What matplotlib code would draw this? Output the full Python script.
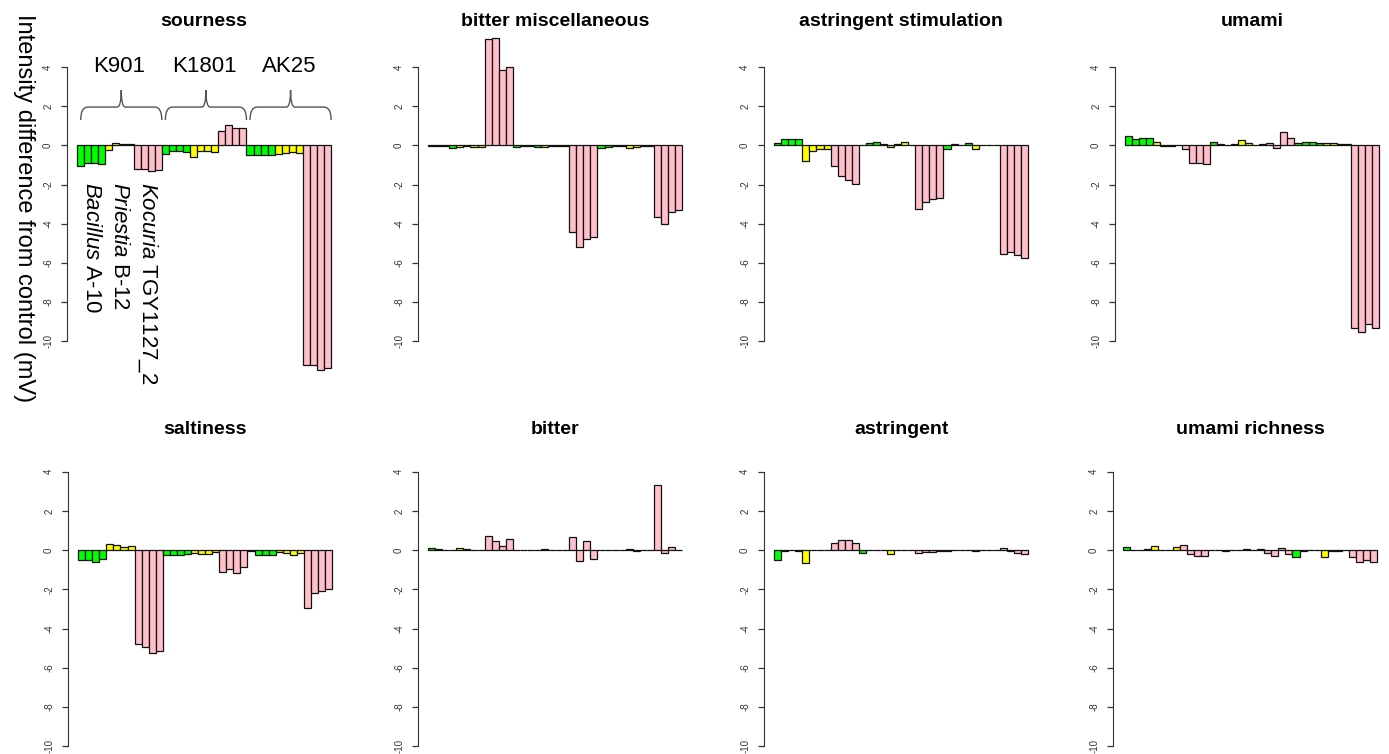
import numpy as np
import matplotlib
matplotlib.use("Agg")
import matplotlib.pyplot as plt
from matplotlib.path import Path
from matplotlib.patches import PathPatch

plt.rcParams['font.family'] = ['Liberation Sans', 'DejaVu Sans']
plt.rcParams['mathtext.fontset'] = 'custom'
plt.rcParams['mathtext.it'] = 'Liberation Sans:italic'
plt.rcParams['mathtext.rm'] = 'Liberation Sans'

# --- dados: 3 cepas x 3 bacterias x 4 repeticoes ---
strains = ['K901', 'K1801', 'AK25']
bacteria = [r'$\it{Bacillus}$ A-10', r'$\it{Priestia}$ B-12', r'$\it{Kocuria}$ TGY1127_2']
bact_colors = ['#00FF00', '#FFFF00', '#FFC0CB']
n_rep = 4

titles = ['sourness', 'bitter miscellaneous', 'astringent stimulation', 'umami',
          'saltiness', 'bitter', 'astringent', 'umami richness']

sourness = [-1.04, -0.88, -0.88, -0.93, -0.24, 0.14, 0.05, 0.05, -1.22, -1.22, -1.30, -1.25,
            -0.44, -0.29, -0.29, -0.33, -0.58, -0.29, -0.29, -0.33, 0.75, 1.02, 0.88, 0.88,
            -0.50, -0.50, -0.50, -0.50, -0.45, -0.40, -0.35, -0.40, -11.2, -11.2, -11.45, -11.35]
bitter_misc = [-0.03, -0.03, -0.06, -0.15, -0.10, -0.03, -0.08, -0.08, 5.41, 5.46, 3.84, 4.01,
               -0.10, -0.03, -0.03, -0.08, -0.08, -0.03, -0.03, -0.03, -4.44, -5.17, -4.80, -4.69,
               -0.15, -0.10, -0.03, -0.03, -0.15, -0.10, -0.03, -0.03, -3.67, -4.01, -3.42, -3.32]
astr_stim = [0.14, 0.34, 0.34, 0.34, -0.80, -0.27, -0.17, -0.19, -1.04, -1.56, -1.77, -1.96,
             0.03, 0.10, 0.17, 0.05, -0.10, 0.07, 0.17, 0.0, -3.27, -2.91, -2.72, -2.69,
             -0.20, 0.07, 0.03, 0.12, -0.20, 0.0, 0.03, 0.03, -5.56, -5.46, -5.60, -5.73]
umami = [0.48, 0.33, 0.37, 0.37, 0.18, -0.03, -0.03, 0.0, -0.19, -0.88, -0.88, -0.95,
         0.18, 0.08, 0.03, 0.08, 0.28, 0.10, 0.0, 0.07, 0.13, -0.15, 0.68, 0.38,
         0.12, 0.18, 0.18, 0.12, 0.12, 0.12, 0.08, 0.08, -9.32, -9.50, -9.10, -9.30]
saltiness = [-0.53, -0.53, -0.60, -0.46, 0.32, 0.27, 0.15, 0.20, -4.78, -4.92, -5.25, -5.15,
             -0.24, -0.24, -0.24, -0.19, -0.15, -0.20, -0.20, -0.12, -1.12, -0.97, -1.17, -0.88,
             -0.03, -0.27, -0.27, -0.27, -0.12, -0.15, -0.25, -0.15, -2.97, -2.19, -2.10, -1.98]
bitter = [0.10, 0.05, 0.0, 0.0, 0.10, 0.05, 0.0, 0.0, 0.73, 0.44, 0.20, 0.59,
          0.0, 0.0, 0.0, 0.03, 0.05, 0.0, 0.0, 0.0, 0.68, -0.56, 0.44, -0.44,
          0.03, 0.0, 0.0, 0.0, 0.05, -0.05, 0.0, 0.0, 3.30, -0.15, 0.15, 0.0]
astringent = [-0.53, -0.05, 0.0, -0.03, -0.65, 0.0, 0.0, 0.0, 0.34, 0.54, 0.54, 0.34,
              -0.15, 0.0, 0.0, 0.0, -0.18, 0.03, 0.03, 0.0, -0.15, -0.08, -0.08, -0.05,
              -0.03, 0.0, 0.0, 0.0, -0.05, 0.0, 0.0, 0.0, 0.10, -0.05, -0.15, -0.22]
umami_rich = [0.15, 0.03, 0.03, 0.08, 0.20, 0.03, 0.03, 0.15, 0.28, -0.18, -0.28, -0.32,
              0.0, 0.03, -0.03, 0.0, 0.03, 0.08, 0.0, 0.08, -0.15, -0.28, 0.10, -0.18,
              -0.36, -0.05, 0.03, 0.0, -0.35, -0.03, -0.03, 0.0, -0.35, -0.62, -0.48, -0.62]

panels = [sourness, bitter_misc, astr_stim, umami, saltiness, bitter, astringent, umami_rich]

yticks = [-10, -8, -6, -4, -2, 0, 2, 4]

# --- layout em pixels (imagem 1389 x 754) ---
W, H = 1389, 754
px_x = 7.055            # px por barra
px_y = 19.6             # px por unidade
n_bars = len(strains) * len(bacteria) * n_rep
xlo, xhi = -0.04 * n_bars, n_bars * 1.04
ylo, yhi = -10.56, 4.56
spine_x = [[67, 418, 764, 1115], [68, 418, 764, 1113]]
zero_y = [145.3, 550.1]
title_y = [22, 430]

bar_colors = [c for _ in strains for c in bact_colors for _ in range(n_rep)]

fig = plt.figure(figsize=(W / 100, H / 100), dpi=100)


def brace(ax, x0, x1, yb, yh, yp, r_end=1.0, r_mid=0.6):
    xm = (x0 + x1) / 2
    verts = [(x0, yb), (x0, yh), (x0 + r_end, yh),
             (xm - r_mid, yh), (xm, yh), (xm, yp),
             (xm, yh), (xm + r_mid, yh),
             (x1 - r_end, yh), (x1, yh), (x1, yb)]
    codes = [Path.MOVETO, Path.CURVE3, Path.CURVE3,
             Path.LINETO, Path.CURVE3, Path.CURVE3,
             Path.CURVE3, Path.CURVE3,
             Path.LINETO, Path.CURVE3, Path.CURVE3]
    ax.add_patch(PathPatch(Path(verts, codes), facecolor='none', edgecolor='#555555',
                           lw=1.0, clip_on=False))


for k, vals in enumerate(panels):
    row, col = divmod(k, 4)
    left = spine_x[row][col]
    width = (xhi - xlo) * px_x
    top = zero_y[row] - yhi * px_y
    height = (yhi - ylo) * px_y
    ax = fig.add_axes([left / W, 1 - (top + height) / H, width / W, height / H])
    ax.patch.set_alpha(0)

    x = np.arange(n_bars) + 0.5
    ax.bar(x, vals, width=1.0, color=bar_colors, edgecolor='#111111', linewidth=0.9,
           clip_on=False)
    ax.set_xlim(xlo, xhi)
    ax.set_ylim(ylo, yhi)

    for s in ['top', 'right', 'bottom']:
        ax.spines[s].set_visible(False)
    ax.spines['left'].set_bounds(-10, 4)
    ax.spines['left'].set_color('#333333')
    ax.set_xticks([])
    ax.set_yticks(yticks)
    ax.set_yticklabels([str(t) for t in yticks], rotation=90, va='center', fontsize=7,
                       color='#333333')
    ax.tick_params(axis='y', length=4, width=0.9, color='#333333', pad=6)

    fig.text((left + width / 2) / W, 1 - title_y[row] / H, titles[k], ha='center',
             va='center', fontsize=14, fontweight='bold')

    if k == 0:
        for g, name in enumerate(strains):
            x0 = g * 12
            ax.text(x0 + 6, 4.0, name, ha='center', va='center', fontsize=16, clip_on=False)
            brace(ax, x0 + 0.5, x0 + 12, 1.29, 1.95, 2.82)
        for b, name in enumerate(bacteria):
            ax.text(b * 4 + 2, -1.85, name, rotation=-90, ha='center', va='top',
                    fontsize=16, clip_on=False)

fig.text(24 / W, 1 - 208 / H, 'Intensity difference from control (mV)', rotation=-90,
         ha='center', va='center', fontsize=17)

fig.savefig('out.png', dpi=100)
